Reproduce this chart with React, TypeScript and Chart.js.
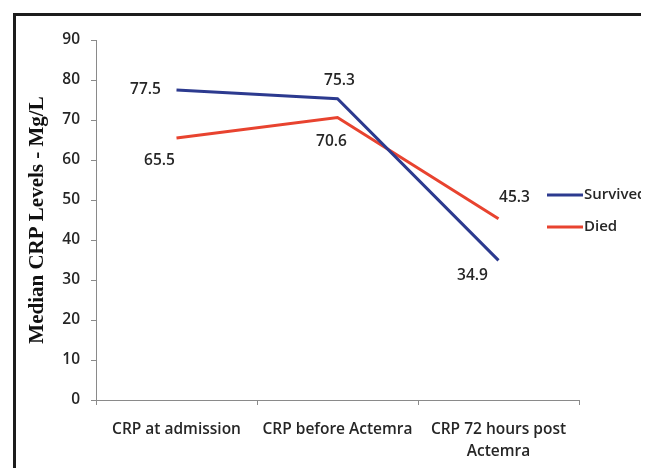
import React, { useEffect, useRef } from "react";
import { Chart, registerables } from "chart.js";

Chart.register(...registerables);

const CATEGORIES: (string | string[])[] = [
  "CRP at admission",
  "CRP before Actemra",
  ["CRP 72 hours post", "Actemra"],
];
const SURVIVED = [77.5, 75.3, 34.9];
const DIED = [65.5, 70.6, 45.3];
const Y_TICKS = { min: 0, max: 90, step: 10 };
const Y_TITLE = "Median CRP Levels - Mg/L";
const SERIES_NAMES = ["Survived", "Died"];

const BLUE = "#2c3a8f";
const RED = "#e8432f";
const TEXT = "#262626";
const FONT = "Open Sans";

// label offsets (pixels) relative to each point, per dataset
const LABEL_OFFSETS = [
  [[-31, 0], [2, -18], [-26, 15]],
  [[-17, 23], [-6, 24], [16, -21]],
];

const labelPlugin = {
  id: "valueLabels",
  afterDatasetsDraw(chart: any) {
    const ctx = chart.ctx;
    ctx.save();
    ctx.font = `600 15.5px "${FONT}"`;
    ctx.fillStyle = TEXT;
    ctx.textAlign = "center";
    ctx.textBaseline = "middle";
    chart.data.datasets.forEach((ds: any, di: number) => {
      const meta = chart.getDatasetMeta(di);
      meta.data.forEach((pt: any, i: number) => {
        const [dx, dy] = LABEL_OFFSETS[di][i];
        ctx.fillText(Number(ds.data[i]).toFixed(1), pt.x + dx, pt.y + dy);
      });
    });
    // legend
    const area = chart.chartArea;
    const x0 = area.right - 32;
    const y0 = area.top + 155;
    ctx.font = `600 15px "${FONT}"`;
    chart.data.datasets.forEach((ds: any, di: number) => {
      const y = y0 + di * 32;
      ctx.strokeStyle = ds.borderColor;
      ctx.lineWidth = 3;
      ctx.beginPath();
      ctx.moveTo(x0, y);
      ctx.lineTo(x0 + 36, y);
      ctx.stroke();
      ctx.textAlign = "left";
      ctx.fillStyle = TEXT;
      ctx.fillText(ds.label, x0 + 37, y);
    });
    ctx.restore();
  },
};

export default function App() {
  const ref = useRef<HTMLCanvasElement>(null);
  useEffect(() => {
    if (!ref.current) return;
    const chart = new Chart(ref.current, {
      type: "line",
      data: {
        labels: CATEGORIES as any,
        datasets: [
          {
            label: SERIES_NAMES[0],
            data: SURVIVED,
            borderColor: BLUE,
            backgroundColor: BLUE,
            borderWidth: 3,
            pointRadius: 0,
            tension: 0,
          },
          {
            label: SERIES_NAMES[1],
            data: DIED,
            borderColor: RED,
            backgroundColor: RED,
            borderWidth: 3,
            pointRadius: 0,
            tension: 0,
          },
        ],
      },
      options: {
        animation: false,
        responsive: false,
        devicePixelRatio: 1,
        layout: { padding: { top: 32, right: 70, left: 0, bottom: 0 } },
        plugins: { legend: { display: false }, tooltip: { enabled: false } },
        scales: {
          x: {
            offset: true,
            grid: {
              offset: true,
              display: true,
              drawOnChartArea: false,
              drawTicks: true,
              tickLength: 5,
              color: "#8a8a8a",
            },
            border: { color: "#8a8a8a", width: 1 },
            ticks: {
              color: TEXT,
              font: { family: FONT, size: 15.5, weight: "600", lineHeight: 1.45 },
              padding: 13,
              maxRotation: 0,
              autoSkip: false,
            },
            afterFit: (s: any) => {
              s.height = 68;
            },
          },
          y: {
            min: Y_TICKS.min,
            max: Y_TICKS.max,
            grid: {
              display: true,
              drawOnChartArea: false,
              drawTicks: true,
              tickLength: 5,
              color: "#8a8a8a",
            },
            border: { color: "#8a8a8a", width: 1 },
            ticks: {
              stepSize: Y_TICKS.step,
              color: TEXT,
              font: { family: FONT, size: 15.5, weight: "600" },
              padding: 11,
            },
            title: {
              display: true,
              text: Y_TITLE,
              color: "#111",
              font: { family: "Liberation Serif", size: 21, weight: "bold" },
              padding: { top: 17, bottom: 0 },
            },
            afterFit: (s: any) => {
              s.width = 88;
            },
          },
        },
      },
      plugins: [labelPlugin],
    });
    return () => chart.destroy();
  }, []);

  return (
    <div style={{ position: "relative", width: 641, height: 460, overflow: "hidden", background: "#fff" }}>
      <div
        style={{
          position: "absolute",
          left: 5,
          top: 5,
          width: 900,
          height: 900,
          border: "3px solid #1c1c1c",
          boxSizing: "border-box",
        }}
      />
      <canvas ref={ref} width={641} height={460} style={{ position: "absolute", left: 0, top: 0 }} />
    </div>
  );
}
